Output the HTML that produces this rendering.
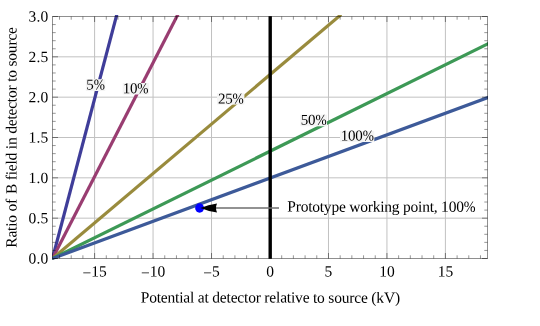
<!DOCTYPE html>
<html><head><meta charset="utf-8"><title>plot</title>
<style>
html,body{margin:0;padding:0;background:#fff;}
body{width:540px;height:326px;overflow:hidden;position:relative;font-family:"Liberation Serif",serif;}
svg{display:block;}
text{text-rendering:geometricPrecision;}
#plot{position:absolute;left:0;top:0;width:540px;height:326px;will-change:transform;}
</style></head><body>
<div id="plot">
<svg width="540" height="326" viewBox="0 0 540 326">
<rect x="0" y="0" width="540" height="326" fill="#fff"/>
<path d="M94.6 16.5V258.5M153.06 16.5V258.5M211.53 16.5V258.5M270 16.5V258.5M328.47 16.5V258.5M386.94 16.5V258.5M445.4 16.5V258.5M52.5 218.17H487.5M52.5 177.83H487.5M52.5 137.5H487.5M52.5 97.17H487.5M52.5 56.83H487.5" stroke="#c1c1c1" stroke-width="1" fill="none"/>
<defs><clipPath id="c"><rect x="52" y="14.9" width="436" height="244.7"/></clipPath></defs>
<g clip-path="url(#c)" fill="none" stroke-width="3.2" stroke-linecap="butt">
<path d="M51.99 260.43L117.07 13.6" stroke="#3f3d99"/>
<path d="M51.59 260.28L178.22 13.83" stroke="#993d71"/>
<path d="M50.97 259.79L341.12 14.56" stroke="#998b3d"/>
<path d="M50.71 259.38L491.5 42.06" stroke="#3d9956"/>
<path d="M50.62 259.19L491.62 96.13" stroke="#3d5a99"/>
</g>
<path d="M59.52 258.5v-3.2M59.52 16.5v3.2M71.21 258.5v-3.2M71.21 16.5v3.2M82.9 258.5v-3.2M82.9 16.5v3.2M106.29 258.5v-3.2M106.29 16.5v3.2M117.98 258.5v-3.2M117.98 16.5v3.2M129.68 258.5v-3.2M129.68 16.5v3.2M141.37 258.5v-3.2M141.37 16.5v3.2M164.76 258.5v-3.2M164.76 16.5v3.2M176.45 258.5v-3.2M176.45 16.5v3.2M188.15 258.5v-3.2M188.15 16.5v3.2M199.84 258.5v-3.2M199.84 16.5v3.2M223.23 258.5v-3.2M223.23 16.5v3.2M234.92 258.5v-3.2M234.92 16.5v3.2M246.61 258.5v-3.2M246.61 16.5v3.2M258.31 258.5v-3.2M258.31 16.5v3.2M281.69 258.5v-3.2M281.69 16.5v3.2M293.39 258.5v-3.2M293.39 16.5v3.2M305.08 258.5v-3.2M305.08 16.5v3.2M316.77 258.5v-3.2M316.77 16.5v3.2M340.16 258.5v-3.2M340.16 16.5v3.2M351.85 258.5v-3.2M351.85 16.5v3.2M363.55 258.5v-3.2M363.55 16.5v3.2M375.24 258.5v-3.2M375.24 16.5v3.2M398.63 258.5v-3.2M398.63 16.5v3.2M410.32 258.5v-3.2M410.32 16.5v3.2M422.02 258.5v-3.2M422.02 16.5v3.2M433.71 258.5v-3.2M433.71 16.5v3.2M457.1 258.5v-3.2M457.1 16.5v3.2M468.79 258.5v-3.2M468.79 16.5v3.2M480.48 258.5v-3.2M480.48 16.5v3.2M52.5 250.43h3.2M487.5 250.43h-3.2M52.5 242.37h3.2M487.5 242.37h-3.2M52.5 234.3h3.2M487.5 234.3h-3.2M52.5 226.23h3.2M487.5 226.23h-3.2M52.5 210.1h3.2M487.5 210.1h-3.2M52.5 202.03h3.2M487.5 202.03h-3.2M52.5 193.97h3.2M487.5 193.97h-3.2M52.5 185.9h3.2M487.5 185.9h-3.2M52.5 169.77h3.2M487.5 169.77h-3.2M52.5 161.7h3.2M487.5 161.7h-3.2M52.5 153.63h3.2M487.5 153.63h-3.2M52.5 145.57h3.2M487.5 145.57h-3.2M52.5 129.43h3.2M487.5 129.43h-3.2M52.5 121.37h3.2M487.5 121.37h-3.2M52.5 113.3h3.2M487.5 113.3h-3.2M52.5 105.23h3.2M487.5 105.23h-3.2M52.5 89.1h3.2M487.5 89.1h-3.2M52.5 81.03h3.2M487.5 81.03h-3.2M52.5 72.97h3.2M487.5 72.97h-3.2M52.5 64.9h3.2M487.5 64.9h-3.2M52.5 48.77h3.2M487.5 48.77h-3.2M52.5 40.7h3.2M487.5 40.7h-3.2M52.5 32.63h3.2M487.5 32.63h-3.2M52.5 24.57h3.2M487.5 24.57h-3.2" stroke="#000" stroke-opacity="0.41" stroke-width="1" fill="none"/>
<path d="M94.6 258.5v-5.5M94.6 16.5v5.5M153.06 258.5v-5.5M153.06 16.5v5.5M211.53 258.5v-5.5M211.53 16.5v5.5M270 258.5v-5.5M270 16.5v5.5M328.47 258.5v-5.5M328.47 16.5v5.5M386.94 258.5v-5.5M386.94 16.5v5.5M445.4 258.5v-5.5M445.4 16.5v5.5M52.5 258.5h5.5M487.5 258.5h-5.5M52.5 218.17h5.5M487.5 218.17h-5.5M52.5 177.83h5.5M487.5 177.83h-5.5M52.5 137.5h5.5M487.5 137.5h-5.5M52.5 97.17h5.5M487.5 97.17h-5.5M52.5 56.83h5.5M487.5 56.83h-5.5M52.5 16.5h5.5M487.5 16.5h-5.5" stroke="#000" stroke-opacity="0.44" stroke-width="1" fill="none"/>
<rect x="52.5" y="16.5" width="435" height="242" fill="none" stroke="#000" stroke-opacity="0.44" stroke-width="1"/>
<path d="M270.2 16.2V258.8" stroke="#000" stroke-width="3.4" fill="none"/>
<ellipse cx="199.6" cy="208" rx="4.45" ry="4.65" fill="#0000ff"/>
<path d="M279 207.95H214" stroke="#6e6e6e" stroke-width="1.6" fill="none"/>
<path d="M200.4 208Q208.2 204.7 217 203.4Q215 208 217 212.6Q208.2 211.3 200.4 208Z" fill="#000"/>

<rect x="85.9" y="79.2" width="19.3" height="11.8" fill="#f4f4f4"/>
<text x="95.5" y="89.5" transform="rotate(0.05 95.5 89.7)" text-anchor="middle" font-family="Liberation Serif, serif" fill="#000" font-size="15" letter-spacing="-0.2">5<tspan textLength="11" lengthAdjust="spacingAndGlyphs">%</tspan></text>
<rect x="122.7" y="83" width="26.2" height="11.5" fill="#f4f4f4"/>
<text x="135.5" y="93.2" transform="rotate(0.05 135.5 93.4)" text-anchor="middle" font-family="Liberation Serif, serif" fill="#000" font-size="15" letter-spacing="-0.2">10<tspan textLength="11" lengthAdjust="spacingAndGlyphs">%</tspan></text>
<rect x="217" y="93.3" width="27.4" height="11.3" fill="#f4f4f4"/>
<text x="230.7" y="103.5" transform="rotate(0.05 230.7 103.7)" text-anchor="middle" font-family="Liberation Serif, serif" fill="#000" font-size="15" letter-spacing="-0.2">25<tspan textLength="11" lengthAdjust="spacingAndGlyphs">%</tspan></text>
<rect x="300.2" y="114.6" width="26.8" height="11.7" fill="#f4f4f4"/>
<text x="313.6" y="124.8" transform="rotate(0.05 313.6 125)" text-anchor="middle" font-family="Liberation Serif, serif" fill="#000" font-size="15" letter-spacing="-0.2">50<tspan textLength="11" lengthAdjust="spacingAndGlyphs">%</tspan></text>
<rect x="340" y="130.9" width="34.3" height="11.1" fill="#f4f4f4"/>
<text x="357.2" y="140.5" transform="rotate(0.05 357.2 140.7)" text-anchor="middle" font-family="Liberation Serif, serif" fill="#000" font-size="15" letter-spacing="-0.2">100<tspan textLength="11" lengthAdjust="spacingAndGlyphs">%</tspan></text>
<text x="287.3" y="211.7" transform="rotate(0.05 380 211.7)" letter-spacing="-0.22" font-family="Liberation Serif, serif" font-size="15.5" fill="#000">Prototype working point, 100<tspan textLength="11.6" lengthAdjust="spacingAndGlyphs">%</tspan></text>
<text x="48.6" y="263.6" transform="rotate(0.05 40 263.6)" text-anchor="end" letter-spacing="0.25" font-family="Liberation Serif, serif" font-size="15.5" fill="#000">0.0</text>
<text x="48.6" y="223.27" transform="rotate(0.05 40 223.27)" text-anchor="end" letter-spacing="0.25" font-family="Liberation Serif, serif" font-size="15.5" fill="#000">0.5</text>
<text x="48.6" y="182.93" transform="rotate(0.05 40 182.93)" text-anchor="end" letter-spacing="0.25" font-family="Liberation Serif, serif" font-size="15.5" fill="#000">1.0</text>
<text x="48.6" y="142.6" transform="rotate(0.05 40 142.6)" text-anchor="end" letter-spacing="0.25" font-family="Liberation Serif, serif" font-size="15.5" fill="#000">1.5</text>
<text x="48.6" y="102.27" transform="rotate(0.05 40 102.27)" text-anchor="end" letter-spacing="0.25" font-family="Liberation Serif, serif" font-size="15.5" fill="#000">2.0</text>
<text x="48.6" y="61.93" transform="rotate(0.05 40 61.93)" text-anchor="end" letter-spacing="0.25" font-family="Liberation Serif, serif" font-size="15.5" fill="#000">2.5</text>
<text x="48.6" y="21.6" transform="rotate(0.05 40 21.6)" text-anchor="end" letter-spacing="0.25" font-family="Liberation Serif, serif" font-size="15.5" fill="#000">3.0</text>
<text x="94.6" y="276.5" transform="rotate(0.05 94.6 276.5)" text-anchor="middle" font-family="Liberation Serif, serif" font-size="15.5" fill="#000"><tspan dy="1.5">−</tspan><tspan dy="-1.5">15</tspan></text>
<text x="153.06" y="276.5" transform="rotate(0.05 153.06 276.5)" text-anchor="middle" font-family="Liberation Serif, serif" font-size="15.5" fill="#000"><tspan dy="1.5">−</tspan><tspan dy="-1.5">10</tspan></text>
<text x="211.53" y="276.5" transform="rotate(0.05 211.53 276.5)" text-anchor="middle" font-family="Liberation Serif, serif" font-size="15.5" fill="#000"><tspan dy="1.5">−</tspan><tspan dy="-1.5">5</tspan></text>
<text x="270" y="276.5" transform="rotate(0.05 270 276.5)" text-anchor="middle" font-family="Liberation Serif, serif" font-size="15.5" fill="#000">0</text>
<text x="328.47" y="276.5" transform="rotate(0.05 328.47 276.5)" text-anchor="middle" font-family="Liberation Serif, serif" font-size="15.5" fill="#000">5</text>
<text x="386.94" y="276.5" transform="rotate(0.05 386.94 276.5)" text-anchor="middle" font-family="Liberation Serif, serif" font-size="15.5" fill="#000">10</text>
<text x="445.4" y="276.5" transform="rotate(0.05 445.4 276.5)" text-anchor="middle" font-family="Liberation Serif, serif" font-size="15.5" fill="#000">15</text>
<text x="270.3" y="302.6" transform="rotate(0.05 270.3 302.6)" text-anchor="middle" letter-spacing="-0.19" font-family="Liberation Serif, serif" font-size="15.5" fill="#000">Potential at detector relative to source (kV)</text>
<text transform="translate(16.5 137.5) rotate(-89.95)" text-anchor="middle" letter-spacing="-0.2" font-family="Liberation Serif, serif" font-size="15.5" fill="#000">Ratio of<tspan dx="1.2"> B</tspan> field in detector to source</text>
</svg>
</div>
</body></html>
